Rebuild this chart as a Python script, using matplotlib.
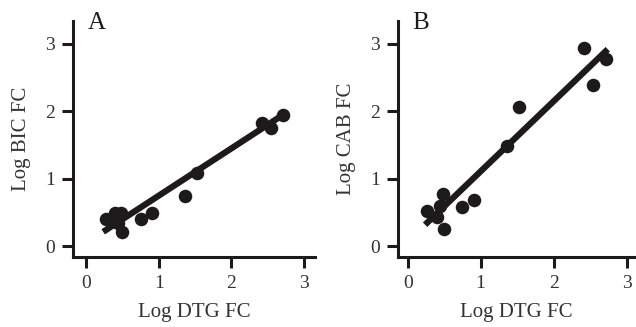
import numpy as np
import matplotlib
matplotlib.use("Agg")
import matplotlib.pyplot as plt

plt.rcParams["font.family"] = ["Liberation Serif", "DejaVu Serif"]

dtg = [0.27, 0.40, 0.44, 0.48, 0.50, 0.75, 0.91, 1.36, 1.52, 2.42, 2.54, 2.71]
bic = [0.40, 0.49, 0.35, 0.50, 0.21, 0.41, 0.49, 0.75, 1.08, 1.83, 1.75, 1.95]
cab = [0.52, 0.44, 0.59, 0.77, 0.25, 0.58, 0.68, 1.49, 2.07, 2.94, 2.39, 2.77]

# regression lines as drawn in the figure (slope, intercept)
fit_bic = [0.70, 0.05]
fit_cab = [1.04, 0.07]

panels = ["A", "B"]
ylabels = ["Log BIC FC", "Log CAB FC"]
ticks = [0, 1, 2, 3]

ink = "#1c1a1b"

fig = plt.figure(figsize=(6.36, 3.27), dpi=100)
rects = [[0.115, 0.214, 0.38, 0.722], [0.626, 0.214, 0.372, 0.722]]
xlims = [(-0.18, 3.15), (-0.13, 3.11)]


def draw_panel(ax, x, y, fit, letter, ylabel, xlim):
    ax.scatter(x, y, s=95, color=ink, zorder=3, linewidths=0)
    k, b = fit
    xs = np.array([min(x), max(x)])
    ax.plot(xs, k * xs + b, color=ink, linewidth=4.5, zorder=2)

    ax.set_xlim(*xlim)
    ax.set_ylim(-0.16, 3.34)
    ax.set_xticks(ticks)
    ax.set_yticks(ticks)
    for side in ["top", "right"]:
        ax.spines[side].set_visible(False)
    for side in ["left", "bottom"]:
        ax.spines[side].set_linewidth(2.2)
        ax.spines[side].set_color(ink)
    ax.tick_params(axis="both", direction="out", length=8, width=2.2,
                   color=ink, labelsize=14, labelcolor="#333333", pad=5)
    ax.set_xlabel("Log DTG FC", fontsize=15, color="#333333", labelpad=8)
    ax.set_ylabel(ylabel, fontsize=15, color="#333333", labelpad=10)
    ax.text(0.06, 0.966, letter, transform=ax.transAxes, fontsize=18,
            color=ink, ha="left", va="baseline")


for i in range(2):
    ax = fig.add_axes(rects[i])
    ys = bic if i == 0 else cab
    fit = fit_bic if i == 0 else fit_cab
    draw_panel(ax, dtg, ys, fit, panels[i], ylabels[i], xlims[i])

fig.savefig("out.png", dpi=100)
